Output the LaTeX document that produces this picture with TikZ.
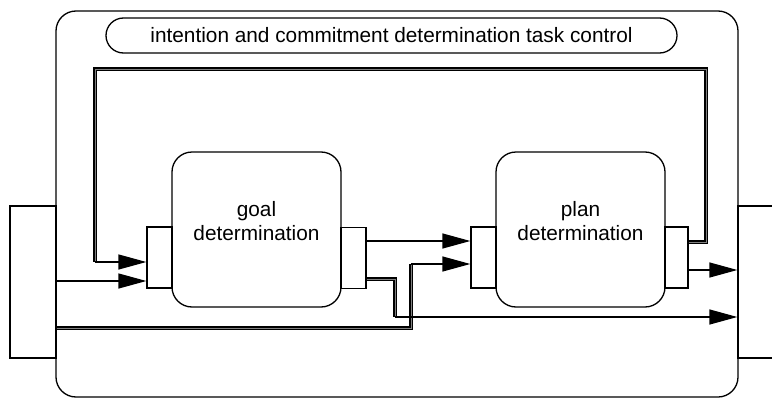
\documentclass[tikz,border=0pt]{standalone}
\usepackage{fontspec}
\setmainfont{Liberation Sans}
\usetikzlibrary{arrows.meta}

\begin{document}
\begin{tikzpicture}[
      x=1pt, y=-1pt,
      line width=1.3pt,
      font=\fontsize{20.8}{24}\selectfont,
      box/.style={draw, rectangle, rounded corners=20pt, inner sep=0pt},
      port/.style={draw, rectangle, fill=white, minimum width=25pt, minimum height=61pt},
      pill/.style={draw, rectangle, rounded corners=17.5pt, minimum width=571pt, minimum height=35pt},
      route/.style={double=gray, line width=1.3pt, double distance=0.6pt},
      flow/.style={-{Triangle[length=28pt, width=15pt]}},
    ]
      \useasboundingbox (0,0) rectangle (772,399);
      \node[box, minimum width=682pt, minimum height=386pt] (0) at (397,204) {};
      \node[pill] (t) at (391.5,35.5) {intention and commitment determination task control};
      \node[draw, rectangle, minimum width=46pt, minimum height=152pt] (1) at (33,282) {};
      \node[draw, rectangle, minimum width=44pt, minimum height=152pt] (2) at (760,282) {};
      \node[box, minimum width=169pt, minimum height=155pt] (3) at (256.5,229.5) {};
      \node[box, minimum width=169pt, minimum height=155pt] (4) at (580.5,229.5) {};
      \node[align=center] (3t) at (256.5,221.5) {goal\\determination};
      \node[align=center] (4t) at (580.5,221.5) {plan\\determination};
      \node[port] (5) at (159.5,257.5) {};
      \node[port] (6) at (353.5,258) {};
      \node[port] (7) at (483.5,257.5) {};
      \node[port, minimum width=23pt] (8) at (676.5,257.5) {};
      \coordinate (a) at (95,262);
      \coordinate (b) at (411,264);
      \coordinate (c) at (395,317);
      % feedback from plan to goal
      \draw[route] (8.east |- 0,242) -- (706,242) -- (706,69) -- (95,69) -- (a);
      \draw[flow] (a) -- (5.west |- a);
      \draw[flow] (1.east |- 0,281) -- (5.west |- 0,281);
      \draw[flow] (6.east |- 0,241) -- (7.west |- 0,241);
      \draw[route] (1.east |- 0,328) -- (411,328) -- (b);
      \draw[flow] (b) -- (7.west |- b);
      \draw[route] (6.east |- 0,279) -- (395,279) -- (c);
      \draw[flow] (c) -- (2.west |- c);
      \draw[flow] (8.east |- 0,270) -- (2.west |- 0,270);
    \end{tikzpicture}
\end{document}
